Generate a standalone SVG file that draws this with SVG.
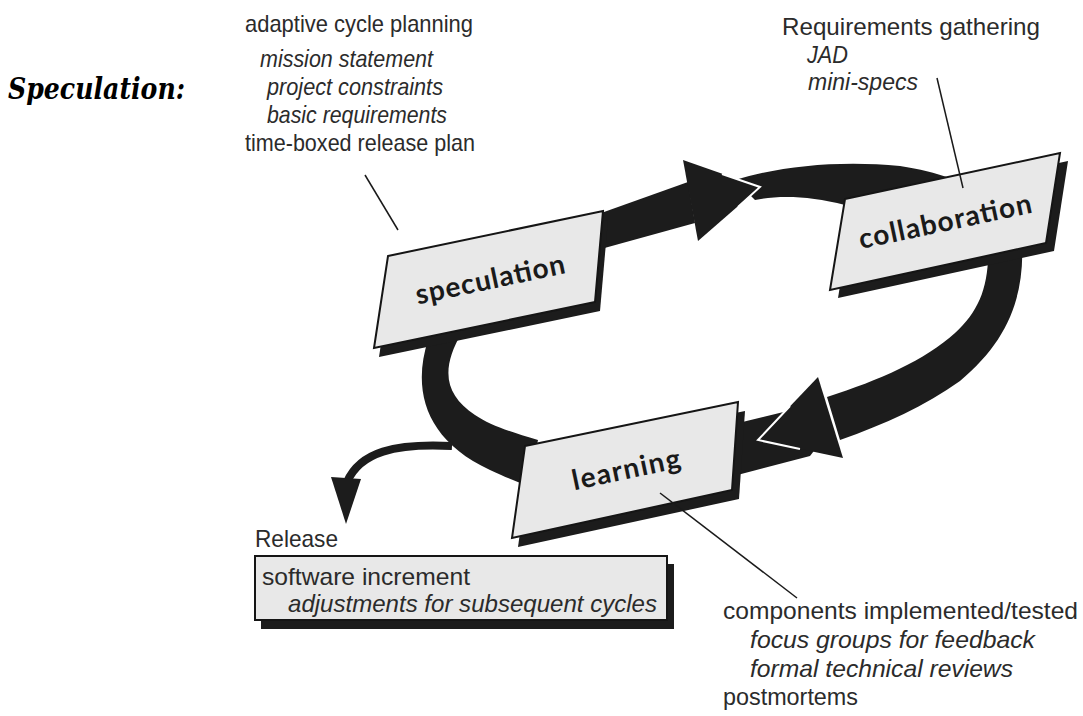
<svg xmlns="http://www.w3.org/2000/svg" width="1083" height="716" viewBox="0 0 1083 716">
<defs>
<style>
.band{fill:#1c1c1c;stroke:none}
.tipline{fill:none;stroke:#ffffff;stroke-width:2;stroke-linejoin:miter}
.shadow{fill:#1c1c1c}
.box{fill:#e8e8e8;stroke:#151515;stroke-width:2;stroke-linejoin:miter}
.lbl{font-family:Lato,"Noto Sans","DejaVu Sans",sans-serif;font-weight:700;font-size:28px;fill:#1a1a1a;text-anchor:middle}
.note{font-family:"Liberation Sans",Arial,sans-serif;font-size:24px;fill:#2b2b2b}
.it{font-style:italic}
.leader{fill:none;stroke:#1a1a1a;stroke-width:1.5}
.title{font-family:"DejaVu Serif","Liberation Serif",serif;font-weight:700;font-style:italic;font-size:30px;fill:#000}
</style>
</defs>
<rect width="1083" height="716" fill="#ffffff"/>

<g id="connectors">
  <!-- speculation -> collaboration -->
  <path class="band" d="M590,217 L688,182 L695,223 L590,252 Z"/>
  <path class="band" d="M735,180 C780,166 840,160 900,166 C920,169 935,173 950,178 L950,200 L845,205 C810,196 780,195 755,200 Z"/>
  <polygon class="band" points="683,160 760,187 698,241"/>
  <polyline class="tipline" points="722,174 760,187 738,207"/>
  <!-- collaboration -> learning -->
  <path class="band" d="M988,240 L1022,240 C1025,300 1006,342 960,381 C925,406 885,424 840,440 L827,397 C880,380 925,360 955,333 C980,310 990,285 988,240 Z"/>
  <path class="band" d="M726,426 L800,408 L830,430 L810,456 L726,478 Z"/>
  <polygon class="band" points="818,377 758,440 843,458"/>
  <polyline class="tipline" points="790,406 758,440 800,449"/>
  <!-- learning -> speculation -->
  <path class="band" d="M428,340 C412,390 425,440 490,470 C505,477 515,481 528,486 L538,440 C510,432 490,425 475,415 C445,395 440,370 462,332 Z"/>
  <!-- release branch -->
  <path d="M452,446 C395,443 360,452 347,482" fill="none" stroke="#1c1c1c" stroke-width="8"/>
  <polygon class="band" points="331,477 361,479 346,524"/>
</g>

<g id="node-speculation">
  <polygon class="shadow" points="393,265 608,220 600,311 379,357"/>
  <polygon class="box" points="388,256 603,211 595,302 374,348"/>
  <text class="lbl" x="490" y="289" textLength="152" transform="rotate(-12 490 279)">speculation</text>
</g>

<g id="node-collaboration">
  <polygon class="shadow" points="853,207 1068,161 1054,251 838,298"/>
  <polygon class="box" points="845,199 1060,153 1046,243 830,290"/>
  <text class="lbl" x="945" y="231" textLength="176" transform="rotate(-12 945 221)">collaboration</text>
</g>

<g id="node-learning">
  <polygon class="shadow" points="531,455 745,411 739,499 518,547"/>
  <polygon class="box" points="525,446 738,402 732,490 512,538"/>
  <text class="lbl" x="626" y="479" textLength="110" transform="rotate(-12 626 469)">learning</text>
</g>

<g id="node-release">
  <rect class="shadow" x="261" y="564" width="413" height="65"/>
  <rect class="box" x="255" y="556" width="412" height="64" stroke-width="1.8"/>
  <text class="note" x="262" y="585" font-size="26" textLength="208" lengthAdjust="spacingAndGlyphs">software increment</text>
  <text class="note it" x="288" y="612" font-size="26" textLength="369" lengthAdjust="spacingAndGlyphs">adjustments for subsequent cycles</text>
</g>

<g id="leaders">
  <line class="leader" x1="365" y1="175" x2="398" y2="230"/>
  <line class="leader" x1="937" y1="78" x2="963" y2="188"/>
  <line class="leader" x1="660" y1="493" x2="797" y2="598"/>
</g>

<g id="labels">
  <text class="title" x="8" y="99" textLength="177" lengthAdjust="spacingAndGlyphs">Speculation:</text>

  <text class="note" x="245" y="32" textLength="228" lengthAdjust="spacingAndGlyphs">adaptive cycle planning</text>
  <text class="note it" x="260" y="67" textLength="173" lengthAdjust="spacingAndGlyphs">mission statement</text>
  <text class="note it" x="267" y="95" textLength="176" lengthAdjust="spacingAndGlyphs">project constraints</text>
  <text class="note it" x="267" y="123" textLength="180" lengthAdjust="spacingAndGlyphs">basic requirements</text>
  <text class="note" x="245" y="151" textLength="230" lengthAdjust="spacingAndGlyphs">time-boxed release plan</text>

  <text class="note" x="782" y="35" font-size="26" textLength="258" lengthAdjust="spacingAndGlyphs">Requirements gathering</text>
  <text class="note it" x="807" y="63" font-size="26" textLength="41" lengthAdjust="spacingAndGlyphs">JAD</text>
  <text class="note it" x="808" y="90" font-size="26" textLength="110" lengthAdjust="spacingAndGlyphs">mini-specs</text>

  <text class="note" x="255" y="547" font-size="26" textLength="83" lengthAdjust="spacingAndGlyphs">Release</text>

  <text class="note" x="723" y="619" font-size="27" textLength="355" lengthAdjust="spacingAndGlyphs">components implemented/tested</text>
  <text class="note it" x="750" y="648" font-size="27" textLength="285" lengthAdjust="spacingAndGlyphs">focus groups for feedback</text>
  <text class="note it" x="750" y="677" font-size="27" textLength="263" lengthAdjust="spacingAndGlyphs">formal technical reviews</text>
  <text class="note" x="723" y="705" font-size="27" textLength="135" lengthAdjust="spacingAndGlyphs">postmortems</text>
</g>
</svg>
